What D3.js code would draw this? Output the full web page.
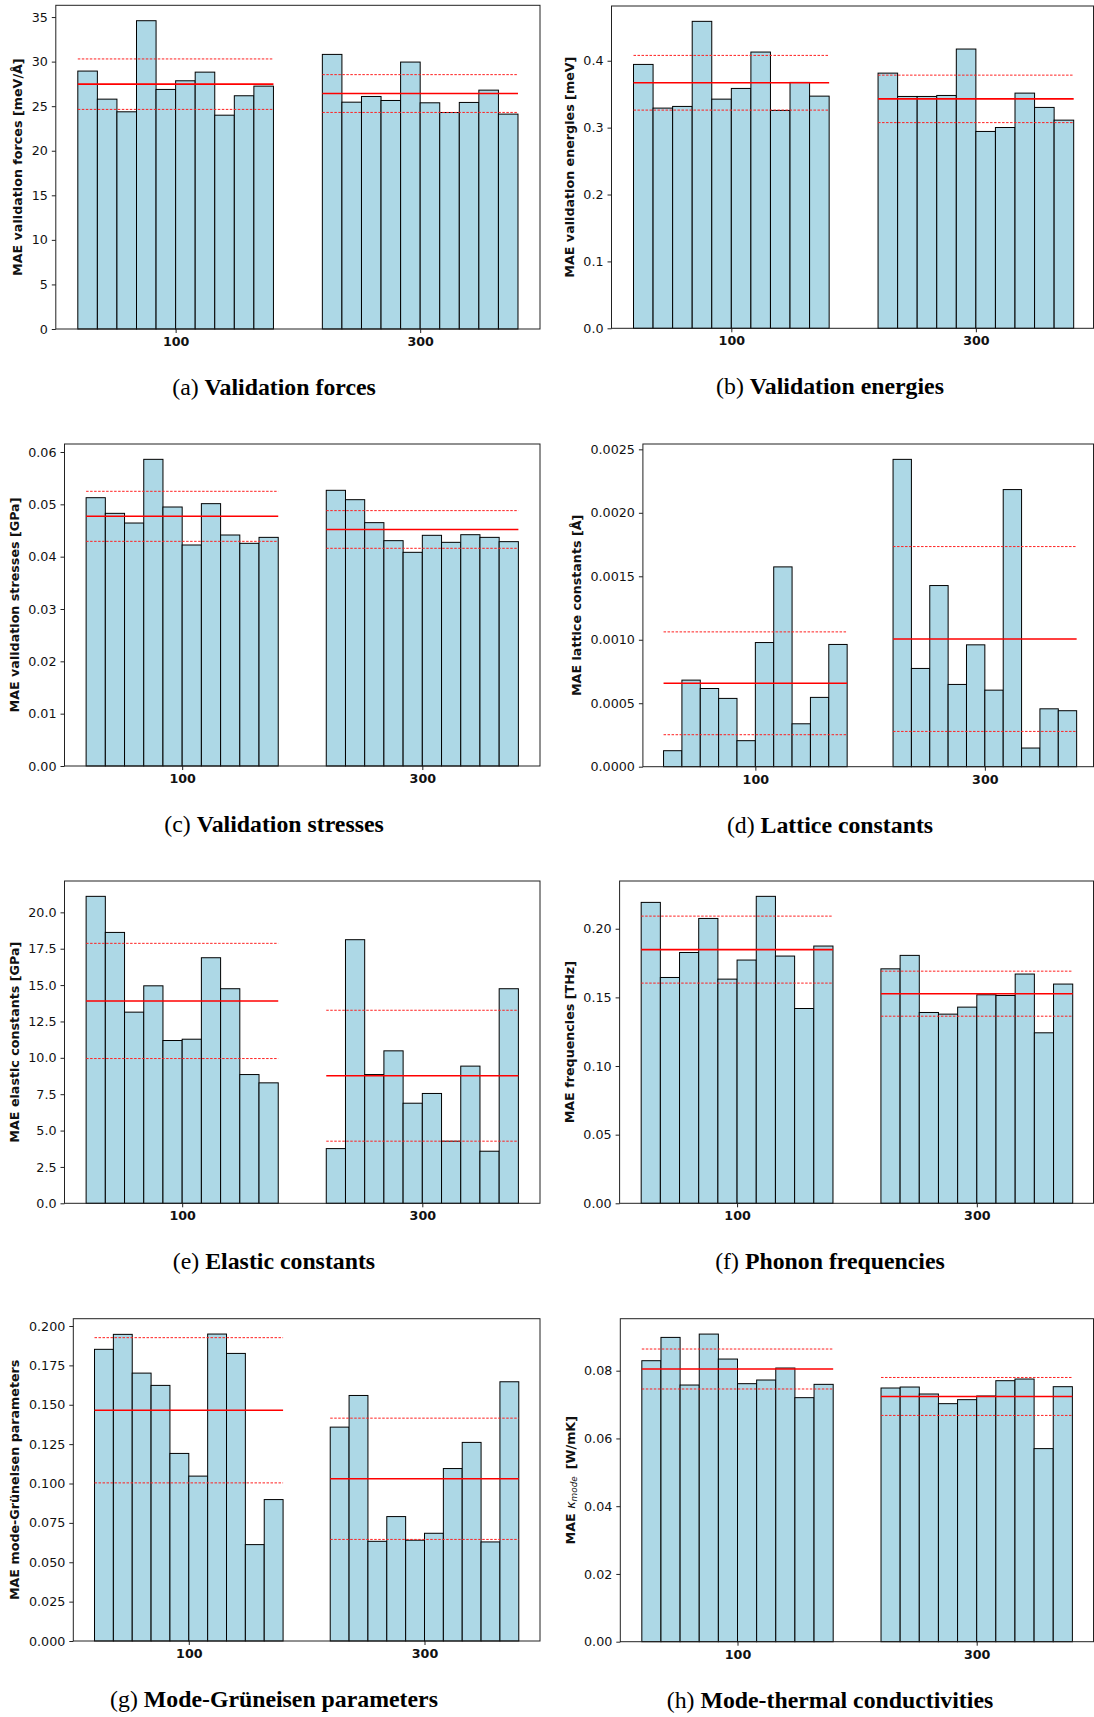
<!DOCTYPE html>
<html>
<head>
<meta charset="utf-8">
<script src="https://cdnjs.cloudflare.com/ajax/libs/d3/7.8.5/d3.min.js"></script>
<style>
  body { margin: 0; background: #fff; }
  svg { display: block; }
</style>
</head>
<body>
<svg id="fig" width="1094" height="1717"></svg>
<script>
// Training-set sizes (group centres on the numeric x axis) and their labels
const groupCenters = [100, 300];
const groupLabels = ["100", "300"];
const barsPerGroup = 10;

// (a) validation forces [meV/Å]
const forces100 = [28.94, 25.79, 24.37, 34.59, 26.88, 27.85, 28.82, 23.99, 26.17, 27.25];
const forces300 = [30.81, 25.45, 26.09, 25.64, 29.95, 25.38, 24.29, 25.42, 26.80, 24.11];
const forcesMean = [27.47, 26.42];
const forcesStd = [2.83, 2.12];
const forcesTicks = [0, 5, 10, 15, 20, 25, 30, 35];

// (b) validation energies [meV]
const energies100 = [0.3945, 0.3292, 0.3317, 0.4589, 0.3426, 0.3586, 0.4130, 0.3257, 0.3676, 0.3471];
const energies300 = [0.3815, 0.3466, 0.3466, 0.3481, 0.4175, 0.2943, 0.3002, 0.3516, 0.3302, 0.3112];
const energiesMean = [0.3671, 0.3430];
const energiesStd = [0.0409, 0.0355];
const energiesTicks = [0.0, 0.1, 0.2, 0.3, 0.4];

// (c) validation stresses [GPa]
const stresses100 = [0.05127, 0.04828, 0.04643, 0.05860, 0.04949, 0.04223, 0.05013, 0.04414, 0.04255, 0.04369];
const stresses300 = [0.05268, 0.05089, 0.04650, 0.04306, 0.04083, 0.04408, 0.04274, 0.04420, 0.04369, 0.04287];
const stressesMean = [0.04771, 0.04520];
const stressesStd = [0.00478, 0.00360];
const stressesTicks = [0.00, 0.01, 0.02, 0.03, 0.04, 0.05, 0.06];

// (d) lattice constants [Å]
const lattice100 = [0.000126, 0.000682, 0.000616, 0.000538, 0.000205, 0.000978, 0.001574, 0.000338, 0.000546, 0.000963];
const lattice300 = [0.002421, 0.000774, 0.001427, 0.000648, 0.000960, 0.000603, 0.002183, 0.000147, 0.000456, 0.000441];
const latticeMean = [0.000657, 0.001006];
const latticeStd = [0.000405, 0.000728];
const latticeTicks = [0.0000, 0.0005, 0.0010, 0.0015, 0.0020, 0.0025];

// (e) elastic constants [GPa]
const elastic100 = [21.10, 18.62, 13.14, 14.95, 11.19, 11.28, 16.88, 14.75, 8.85, 8.28];
const elastic300 = [3.76, 18.12, 8.85, 10.48, 6.88, 7.55, 4.27, 9.43, 3.58, 14.75];
const elasticMean = [13.91, 8.77];
const elasticStd = [3.96, 4.50];
const elasticTicks = [0, 2.5, 5, 7.5, 10, 12.5, 15, 17.5, 20];

// (f) phonon frequencies [THz]
const phonon100 = [0.2192, 0.1645, 0.1827, 0.2075, 0.1633, 0.1772, 0.2236, 0.1801, 0.1419, 0.1874];
const phonon300 = [0.1708, 0.1806, 0.1390, 0.1378, 0.1429, 0.1519, 0.1514, 0.1670, 0.1242, 0.1597];
const phononMean = [0.1848, 0.1527];
const phononStd = [0.0244, 0.0164];
const phononTicks = [0.00, 0.05, 0.10, 0.15, 0.20];

// (g) mode-Grüneisen parameters
const grun100 = [0.1852, 0.1947, 0.1701, 0.1623, 0.1191, 0.1047, 0.1949, 0.1826, 0.0612, 0.0898];
const grun300 = [0.1358, 0.1559, 0.0633, 0.0790, 0.0640, 0.0684, 0.1095, 0.1261, 0.0629, 0.1646];
const grunMean = [0.1465, 0.1030];
const grunStd = [0.0461, 0.0385];
const grunTicks = [0.000, 0.025, 0.050, 0.075, 0.100, 0.125, 0.150, 0.175, 0.200];

// (h) mode thermal conductivities [W/mK]
const kappa100 = [0.08295, 0.08983, 0.07577, 0.09081, 0.08344, 0.07617, 0.07725, 0.08079, 0.07204, 0.07597];
const kappa300 = [0.07489, 0.07518, 0.07312, 0.07027, 0.07145, 0.07253, 0.07705, 0.07754, 0.05700, 0.07528];
const kappaMean = [0.0805, 0.0724];
const kappaStd = [0.0059, 0.0056];
const kappaTicks = [0.00, 0.02, 0.04, 0.06, 0.08];

const panels = [
  { tag: "(a)", title: "Validation forces", ylabel: ["MAE validation forces [meV/Å]"],
    groups: [forces100, forces300], mean: forcesMean, std: forcesStd, ticks: forcesTicks, fmt: d3.format("d") },
  { tag: "(b)", title: "Validation energies", ylabel: ["MAE validation energies [meV]"],
    groups: [energies100, energies300], mean: energiesMean, std: energiesStd, ticks: energiesTicks, fmt: d3.format(".1f") },
  { tag: "(c)", title: "Validation stresses", ylabel: ["MAE validation stresses [GPa]"],
    groups: [stresses100, stresses300], mean: stressesMean, std: stressesStd, ticks: stressesTicks, fmt: d3.format(".2f") },
  { tag: "(d)", title: "Lattice constants", ylabel: ["MAE lattice constants [Å]"],
    groups: [lattice100, lattice300], mean: latticeMean, std: latticeStd, ticks: latticeTicks, fmt: d3.format(".4f") },
  { tag: "(e)", title: "Elastic constants", ylabel: ["MAE elastic constants [GPa]"],
    groups: [elastic100, elastic300], mean: elasticMean, std: elasticStd, ticks: elasticTicks, fmt: d3.format(".1f") },
  { tag: "(f)", title: "Phonon frequencies", ylabel: ["MAE frequencies [THz]"],
    groups: [phonon100, phonon300], mean: phononMean, std: phononStd, ticks: phononTicks, fmt: d3.format(".2f") },
  { tag: "(g)", title: "Mode-Grüneisen parameters", ylabel: ["MAE mode-Grüneisen parameters"],
    groups: [grun100, grun300], mean: grunMean, std: grunStd, ticks: grunTicks, fmt: d3.format(".3f") },
  { tag: "(h)", title: "Mode-thermal conductivities", ylabel: "kappa",
    groups: [kappa100, kappa300], mean: kappaMean, std: kappaStd, ticks: kappaTicks, fmt: d3.format(".2f") }
];

// Axes rectangles of the 2 x 4 grid of subfigures
const frames = [
  { L: 55.8,  R: 540,    T: 5.3,    B: 329 },
  { L: 611.5, R: 1095.7, T: 6,      B: 328.3 },
  { L: 64.5,  R: 540,    T: 444,    B: 766 },
  { L: 642.9, R: 1097.3, T: 444,    B: 766.7 },
  { L: 64.5,  R: 540,    T: 881,    B: 1203.3 },
  { L: 619.6, R: 1094.3, T: 881,    B: 1203.3 },
  { L: 73.3,  R: 540,    T: 1318.7, B: 1641 },
  { L: 620.3, R: 1093.9, T: 1318.7, B: 1641.7 }
];
const captionCenters = [274, 830];
const halfSpan = 80;          // bars of a group cover centre ± 80
const xDomain = [2, 398];     // 5 % margin around the bar extent 20..380

const svg = d3.select("#fig");
const tickFont = "'DejaVu Sans', sans-serif";
const fs = 12.7;

panels.forEach((p, k) => {
  const f = frames[k];
  const g = svg.append("g");
  const x = d3.scaleLinear().domain(xDomain).range([f.L, f.R]);
  const all = p.groups.flat().concat(p.mean.map((m, i) => m + p.std[i]));
  const y = d3.scaleLinear().domain([0, d3.max(all) * 1.05]).range([f.B, f.T]);
  const frameR = Math.min(f.R, 1093.5);

  // bars
  p.groups.forEach((vals, gi) => {
    const c = groupCenters[gi];
    const band = d3.scaleBand().domain(d3.range(barsPerGroup))
      .range([x(c - halfSpan), x(c + halfSpan)]).padding(0);
    g.append("g").selectAll("rect").data(vals).join("rect")
      .attr("x", (d, i) => band(i))
      .attr("width", band.bandwidth())
      .attr("y", d => y(d))
      .attr("height", d => y(0) - y(d))
      .attr("fill", "#add8e6")
      .attr("stroke", "#000")
      .attr("stroke-width", 1);
  });

  // mean and mean ± std lines for each group
  p.groups.forEach((vals, gi) => {
    const c = groupCenters[gi];
    const x0 = x(c - halfSpan), x1 = x(c + halfSpan);
    const m = p.mean[gi], s = p.std[gi];
    [m + s, m - s].forEach(v => {
      g.append("line").attr("x1", x0).attr("x2", x1).attr("y1", y(v)).attr("y2", y(v))
        .attr("stroke", "#ff2020").attr("stroke-width", 1).attr("stroke-dasharray", "2.5,1.5");
    });
    g.append("line").attr("x1", x0).attr("x2", x1).attr("y1", y(m)).attr("y2", y(m))
      .attr("stroke", "#ff0000").attr("stroke-width", 1.6);
  });

  // frame
  g.append("rect").attr("x", f.L).attr("y", f.T)
    .attr("width", frameR - f.L).attr("height", f.B - f.T)
    .attr("fill", "none").attr("stroke", "#222").attr("stroke-width", 1);

  // y axis
  const ya = g.append("g").attr("transform", `translate(${f.L},0)`)
    .call(d3.axisLeft(y).tickValues(p.ticks).tickFormat(p.fmt).tickSize(4).tickPadding(4));
  ya.select(".domain").remove();
  ya.selectAll("line").attr("stroke", "#222");
  ya.selectAll("text").attr("font-family", tickFont).attr("font-size", fs).attr("fill", "#111");

  // x axis
  const xa = g.append("g").attr("transform", `translate(0,${f.B})`)
    .call(d3.axisBottom(x).tickValues(groupCenters).tickFormat((d, i) => groupLabels[i]).tickSize(4).tickPadding(4));
  xa.select(".domain").remove();
  xa.selectAll("line").attr("stroke", "#222");
  xa.selectAll("text").attr("font-family", tickFont).attr("font-size", fs)
    .attr("font-weight", "bold").attr("fill", "#111");

  // y label, placed left of the widest tick label
  let maxW = 0;
  ya.selectAll("text").each(function () { maxW = Math.max(maxW, this.getBBox().width); });
  const cx = f.L - 8 - maxW - 14;
  const cy = (f.T + f.B) / 2;
  const yl = g.append("text")
    .attr("transform", `translate(${cx},${cy}) rotate(-90)`)
    .attr("dy", "0.35em")
    .attr("text-anchor", "middle")
    .attr("font-family", tickFont).attr("font-size", fs).attr("font-weight", "bold").attr("fill", "#111");
  if (p.ylabel === "kappa") {
    yl.append("tspan").text("MAE ");
    yl.append("tspan").attr("font-weight", "normal").attr("font-style", "italic").text("κ");
    yl.append("tspan").attr("font-weight", "normal").attr("font-style", "italic")
      .attr("font-size", fs * 0.7).attr("dy", "0.3em").text("mode");
    yl.append("tspan").attr("dy", "-0.21em").text("\u2009 [W/mK]");
  } else {
    yl.text(p.ylabel[0]);
  }

  // caption
  const cap = svg.append("text")
    .attr("x", captionCenters[k % 2]).attr("y", f.B + 66)
    .attr("text-anchor", "middle")
    .attr("font-family", "'Liberation Serif', 'Times New Roman', serif")
    .attr("font-size", 23.8).attr("fill", "#000");
  cap.append("tspan").text(p.tag + " ");
  cap.append("tspan").attr("font-weight", "bold").text(p.title);
});
</script>
</body>
</html>
